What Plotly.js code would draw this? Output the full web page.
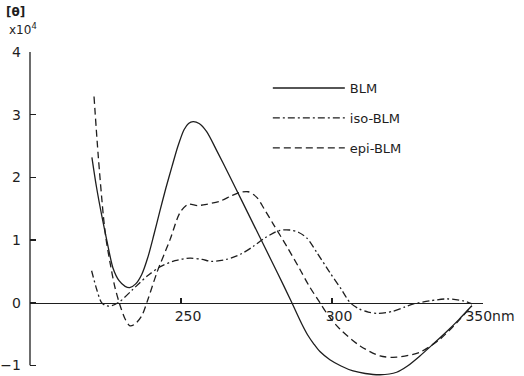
<!DOCTYPE html>
<html>
<head>
<meta charset="utf-8">
<script src="https://cdn.plot.ly/plotly-3.0.1.min.js"></script>
<style>html,body{margin:0;padding:0;background:#fff;}#chart{width:524px;height:376px;}</style>
</head>
<body>
<div id="chart"></div>
<script>
// Wavelength (nm) and molar ellipticity [θ] (×10^4)
const blmWavelength = [220.5, 222, 223.8, 225.5, 227.5, 229.5, 231.5, 233, 235, 237, 239, 241, 243, 245, 247, 249, 251, 252.5, 254, 256, 258.5, 262, 266, 270, 274, 278, 282, 286.4, 290, 292, 294, 296, 299.3, 303, 307, 311, 315.9, 321.4, 325, 329.1, 333.5, 338, 342, 346.3];
const blmValue      = [2.32, 1.85, 1.38, 0.98, 0.55, 0.35, 0.26, 0.24, 0.3, 0.45, 0.72, 1.08, 1.46, 1.83, 2.17, 2.5, 2.76, 2.86, 2.89, 2.86, 2.73, 2.41, 2.03, 1.64, 1.25, 0.86, 0.47, 0.03, -0.34, -0.52, -0.66, -0.78, -0.91, -1.01, -1.09, -1.13, -1.15, -1.11, -1.01, -0.85, -0.66, -0.46, -0.27, -0.05];

const isoWavelength = [220.4, 222.1, 223.7, 225.3, 227, 229.8, 234, 238.7, 243, 248, 253, 257, 260, 265, 270, 274, 278, 282.5, 286, 289, 291.7, 295, 299.3, 303, 306, 309, 312, 315, 320, 324, 327, 332.5, 338, 343.4, 346.4];
const isoValue      = [0.51, 0.21, 0.0, -0.05, -0.05, 0.02, 0.21, 0.42, 0.57, 0.67, 0.71, 0.69, 0.66, 0.69, 0.78, 0.9, 1.04, 1.15, 1.16, 1.12, 1.03, 0.8, 0.48, 0.22, 0.0, -0.1, -0.15, -0.17, -0.14, -0.07, -0.02, 0.03, 0.06, 0.03, -0.02];

const epiWavelength = [221.2, 222.6, 224.3, 225.2, 226.5, 228.1, 229.8, 231.5, 233.1, 234.8, 237.1, 239.1, 242.1, 246.4, 249.7, 252.4, 255.5, 258.5, 262.9, 266.5, 269.5, 272.3, 275.1, 277.5, 280.6, 285, 289.4, 292.5, 296, 299, 302.6, 309.3, 315.9, 321.4, 329.1, 335.8, 341.3, 346.3];
const epiValue      = [3.29, 2.34, 1.38, 1.01, 0.64, 0.25, -0.04, -0.26, -0.37, -0.34, -0.2, 0.06, 0.49, 1.01, 1.44, 1.57, 1.55, 1.57, 1.62, 1.7, 1.76, 1.77, 1.68, 1.5, 1.25, 0.9, 0.53, 0.26, 0.0, -0.22, -0.42, -0.69, -0.85, -0.87, -0.79, -0.58, -0.32, -0.05];

const seriesNames = ['BLM', 'iso-BLM', 'epi-BLM'];
const xTickVals = [250, 300, 350];
const xTickText = ['250', '300', '350nm'];
const yTickVals = [-1, 0, 1, 2, 3, 4];
const yTickText = ['\u22121', '0', '1', '2', '3', '4'];

const ink = '#1e1e1e';
const font = {family: 'DejaVu Sans, sans-serif', size: 14, color: ink};
const yMin = -1.17, yMax = 4;

const traces = [
  {x: blmWavelength, y: blmValue, name: seriesNames[0], legendgroup: 'a', mode: 'lines',
   line: {color: ink, width: 1.3, shape: 'spline', smoothing: 0.8}},
  {x: isoWavelength, y: isoValue, name: seriesNames[1], legendgroup: 'b', mode: 'lines',
   line: {color: ink, width: 1.3, shape: 'spline', smoothing: 0.8, dash: '7px,3px,2px,3px'}},
  {x: epiWavelength, y: epiValue, name: seriesNames[2], legendgroup: 'c', mode: 'lines',
   line: {color: ink, width: 1.3, shape: 'spline', smoothing: 0.8, dash: '7px,4px'}}
];

const layout = {
  width: 524, height: 376,
  margin: {l: 30, r: 41, t: 52, b: 0, pad: 0},
  paper_bgcolor: '#fff', plot_bgcolor: '#fff',
  font: font,
  showlegend: true,
  legend: {x: 0.525, y: 0.935, xanchor: 'left', yanchor: 'top', bgcolor: 'rgba(0,0,0,0)',
           font: {family: 'DejaVu Sans, sans-serif', size: 13, color: ink}, tracegroupgap: 10,
           itemwidth: 72},
  xaxis: {range: [200, 350], anchor: 'free', position: (0 - yMin) / (yMax - yMin), showline: true, linecolor: ink, linewidth: 1.3,
          showgrid: false, zeroline: false, ticks: 'inside', ticklen: 5, tickcolor: ink, tickwidth: 1.2,
          tickvals: xTickVals, ticktext: xTickText, tickfont: font, ticklabelshift: 7},
  yaxis: {range: [yMin, yMax], showline: false, showgrid: false, zeroline: false,
          ticks: 'inside', ticklen: 6, tickcolor: ink, tickwidth: 1.2,
          tickvals: yTickVals, ticktext: yTickText, tickfont: font, ticklabelstandoff: 8},
  shapes: [
    {type: 'line', xref: 'paper', yref: 'y', x0: 0, x1: 0, y0: -1, y1: 4, line: {color: ink, width: 1.3}}
  ],
  annotations: [
    {xref: 'paper', yref: 'paper', x: -0.057, y: 1.125, xanchor: 'left', yanchor: 'middle', showarrow: false,
     text: '<b>[θ]</b>', font: {family: 'DejaVu Sans, sans-serif', size: 12, color: ink}},
    {xref: 'paper', yref: 'paper', x: -0.05, y: 1.072, xanchor: 'left', yanchor: 'middle', showarrow: false,
     text: 'x10<sup>4</sup>', font: {family: 'DejaVu Sans, sans-serif', size: 12, color: ink}}
  ]
};

Plotly.newPlot('chart', traces, layout, {staticPlot: true, displayModeBar: false});
</script>
</body>
</html>
